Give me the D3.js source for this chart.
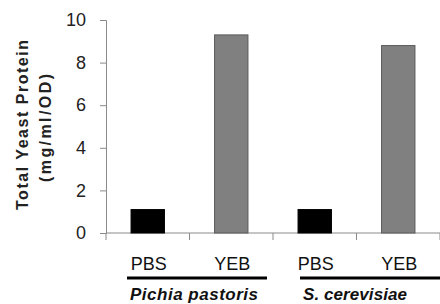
<!DOCTYPE html>
<html>
<head>
<meta charset="utf-8">
<script src="https://cdn.jsdelivr.net/npm/d3@7"></script>
<style>
  body { margin: 0; background: #fff; }
  svg { display: block; }
</style>
</head>
<body>
<svg id="chart" width="440" height="304"></svg>
<script>
var categories = ["PBS", "YEB", "PBS", "YEB"];
var values = [1.1, 9.3, 1.1, 8.8];
var colors = ["#000000", "#808080", "#000000", "#808080"];
var groups = ["Pichia pastoris", "S. cerevisiae"];
var yTicks = [0, 2, 4, 6, 8, 10];

var svg = d3.select("#chart");
var idx = d3.range(categories.length);

// x: one band per bar
var x = d3.scaleBand().domain(idx).range([106, 440]).padding(0);
var y = d3.scaleLinear().domain([0, 10]).range([233, 20]);
var barW = x.bandwidth() * 0.4;

// y axis
var yAxis = svg.append("g").attr("transform", "translate(106,0)")
  .call(d3.axisLeft(y).tickValues(yTicks).tickSize(6).tickPadding(14));
yAxis.select(".domain").attr("stroke", "#8a8a8a");
yAxis.selectAll(".tick line").attr("stroke", "#8a8a8a");
yAxis.selectAll(".tick text")
  .attr("font-family", "Liberation Sans, Arial, sans-serif")
  .attr("font-size", 18).attr("fill", "#222");

// x axis line + tick marks at band edges
var edges = idx.map(function (i) { return x(i); }).concat([x(idx.length - 1) + x.bandwidth()]);
svg.append("line").attr("x1", 106).attr("x2", 440).attr("y1", y(0)).attr("y2", y(0))
  .attr("stroke", "#8a8a8a");
svg.selectAll(".xt").data(edges).enter().append("line")
  .attr("x1", function (d) { return d; }).attr("x2", function (d) { return d; })
  .attr("y1", y(0)).attr("y2", y(0) + 7).attr("stroke", "#8a8a8a");

// bars
svg.selectAll(".bar").data(idx).enter().append("rect")
  .attr("x", function (i) { return x(i) + x.bandwidth() / 2 - barW / 2; })
  .attr("y", function (i) { return y(values[i]); })
  .attr("width", barW)
  .attr("height", function (i) { return y(0) - y(values[i]); })
  .attr("fill", function (i) { return colors[i]; })
  .attr("stroke", function (i) { return colors[i] === "#000000" ? "#000" : "#5a5a5a"; })
  .attr("stroke-width", 1);

// category labels
svg.selectAll(".cat").data(idx).enter().append("text")
  .attr("x", function (i) { return x(i) + x.bandwidth() / 2 + 1; })
  .attr("y", 270)
  .attr("text-anchor", "middle")
  .attr("font-family", "Liberation Sans, Arial, sans-serif")
  .attr("font-size", 18).attr("fill", "#111")
  .text(function (i) { return categories[i]; });

// group underlines + names
var groupSpan = [[127, 267], [300, 440]];
var groupMid = [194, 355];
var groupLen = [128, 104];
groups.forEach(function (g, k) {
  svg.append("line")
    .attr("x1", groupSpan[k][0]).attr("x2", groupSpan[k][1])
    .attr("y1", 278).attr("y2", 278)
    .attr("stroke", "#000").attr("stroke-width", 3);
  svg.append("text")
    .attr("x", groupMid[k]).attr("y", 300)
    .attr("text-anchor", "middle")
    .attr("font-family", "Liberation Sans, Arial, sans-serif")
    .attr("font-size", 17).attr("font-weight", "bold").attr("font-style", "italic")
    .attr("fill", "#111")
    .attr("textLength", groupLen[k]).attr("lengthAdjust", "spacing")
    .text(g);
});

// y title
svg.append("text")
  .attr("transform", "translate(28,125) rotate(-90)")
  .attr("text-anchor", "middle")
  .attr("font-family", "Liberation Sans, Arial, sans-serif")
  .attr("font-size", 16).attr("font-weight", "bold").attr("fill", "#222")
  .attr("textLength", 170).attr("lengthAdjust", "spacing")
  .text("Total Yeast Protein");
svg.append("text")
  .attr("transform", "translate(51,128) rotate(-90)")
  .attr("text-anchor", "middle")
  .attr("font-family", "Liberation Sans, Arial, sans-serif")
  .attr("font-size", 16).attr("font-weight", "bold").attr("fill", "#222")
  .attr("textLength", 108).attr("lengthAdjust", "spacing")
  .text("(mg/ml/OD)");
</script>
</body>
</html>
